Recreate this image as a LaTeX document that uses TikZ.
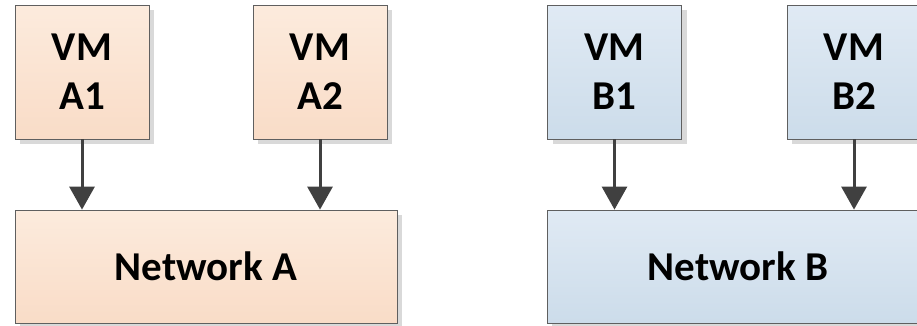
\documentclass[tikz,border=0pt]{standalone}
\usepackage{fontspec}
\setmainfont{Carlito}
\usetikzlibrary{arrows.meta,shadows}
\definecolor{lineGray}{HTML}{5F5F5F}
\definecolor{arrowGray}{HTML}{404040}
\definecolor{orangeTop}{HTML}{FCEBDD}
\definecolor{orangeBot}{HTML}{F9DCC7}
\definecolor{blueTop}{HTML}{E0EAF4}
\definecolor{blueBot}{HTML}{CCDCEA}

\tikzset{
  box/.style={draw=lineGray, line width=0.8pt, align=center, inner sep=0pt,
    font=\bfseries\fontsize{41}{49}\selectfont,
    drop shadow={shadow xshift=5pt, shadow yshift=-5pt, fill=black!15, opacity=1}},
  vmbox/.style={box, minimum width=134pt, minimum height=134pt},
  netbox/.style={box, minimum width=382pt, minimum height=113pt},
  orangefill/.style={shading=axis, top color=orangeTop, bottom color=orangeBot},
  bluefill/.style={shading=axis, top color=blueTop, bottom color=blueBot},
  link/.style={draw=arrowGray, line width=3pt,
    -{Triangle[length=23pt, width=25pt]}, arrowGray}
}

\begin{document}
\begin{tikzpicture}[x=1pt,y=-1pt]
\useasboundingbox (0,0) rectangle (917,325);

% virtual machines
\node[vmbox, orangefill] (vma1) at (82,72) {VM\\A1};
\node[vmbox, orangefill] (vma2) at (320,72) {VM\\A2};
\node[vmbox, bluefill] (vmb1) at (614.5,72) {VM\\B1};
\node[vmbox, bluefill] (vmb2) at (854,72) {VM\\B2};

% networks
\node[netbox, orangefill] (neta) at (206,266.5) {Network A};
\node[netbox, bluefill] (netb) at (738,266.5) {Network B};

% connections
\draw[link] (vma1.south) -- (vma1.south |- neta.north);
\draw[link] (vma2.south) -- (vma2.south |- neta.north);
\draw[link] (vmb1.south) -- (vmb1.south |- netb.north);
\draw[link] (vmb2.south) -- (vmb2.south |- netb.north);

\end{tikzpicture}
\end{document}
